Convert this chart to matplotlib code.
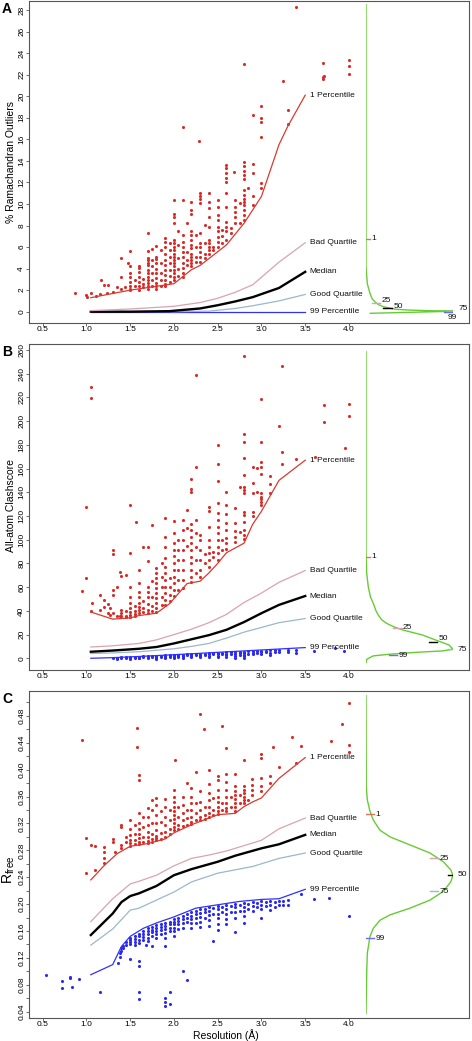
import numpy as np
import matplotlib
matplotlib.use('Agg')
import matplotlib.pyplot as plt
from matplotlib.ticker import MultipleLocator

plt.rcParams['font.family'] = ['Liberation Sans', 'DejaVu Sans']

# ============================ DATA ============================
pct_names = ['1 Percentile', 'Bad Quartile', 'Median', 'Good Quartile', '99 Percentile']
dens_labels = ['1', '25', '50', '75', '99']

# ---------- Panel A : % Ramachandran outliers ----------
A_p1_x = [1.05, 1.5, 2.0, 2.2, 2.3, 2.6, 2.8, 3.0, 3.2, 3.3, 3.5]
A_p1_y = [1.3, 2.0, 2.6, 3.9, 4.3, 6.2, 8.2, 10.7, 15.5, 17.2, 20.1]
A_bad_x = [1.05, 1.5, 2.0, 2.3, 2.5, 2.7, 2.9, 3.2, 3.5]
A_bad_y = [0.1, 0.25, 0.5, 0.85, 1.25, 1.8, 2.5, 4.6, 6.4]
A_med_x = [1.05, 1.5, 1.95, 2.3, 2.5, 2.7, 2.9, 3.2, 3.5]
A_med_y = [0.0, 0.0, 0.05, 0.3, 0.6, 0.95, 1.35, 2.2, 3.7]
A_good_x = [1.05, 2.0, 2.4, 2.7, 2.9, 3.2, 3.5]
A_good_y = [0.0, 0.0, 0.05, 0.3, 0.55, 1.0, 1.6]
A_p99_x = [1.05, 2.0, 3.0, 3.5]
A_p99_y = [0.0, 0.0, 0.0, 0.0]

A_red = [
    (0.87, [1.7]), (0.99, [1.55]), (1.01, [1.4]), (1.05, [1.7]), (1.11, [1.5]),
    (1.15, [1.6]), (1.17, [2.95]), (1.2, [2.45]), (1.23, [1.7]), (1.25, [2.45]),
    (1.3, [1.85]), (1.35, [2.3]), (1.39, [3.25]), (1.4, [2.1, 4.95]), (1.44, [2.3]),
    (1.48, [4.5]),
    (1.5, [5.65, 4.2, 3.55, 3.25, 2.8, 2.35, 2.15, 2.0]),
    (1.55, [2.4, 2.9]),
    (1.6, [4.25, 4.1, 3.7, 3.25, 2.8, 2.35, 2.05]),
    (1.65, [3.0, 2.3, 2.6]),
    (1.7, [7.3, 5.65, 4.95, 4.8, 4.55, 4.35, 3.85, 3.55, 3.25, 2.95, 2.65, 2.35, 2.1]),
    (1.75, [5.8, 4.8, 4.2, 3.55, 2.95, 2.35]),
    (1.8, [6.1, 5.1, 4.85, 4.5, 4.0, 3.55, 3.1, 2.65, 2.35, 2.15]),
    (1.85, [5.75, 4.5, 3.55, 2.95, 2.35]),
    (1.9, [6.8, 6.5, 6.05, 5.4, 4.8, 4.35, 3.85, 3.4, 2.95, 2.6, 2.4]),
    (1.95, [6.35, 5.7, 5.1, 4.5, 3.9, 3.3, 2.8]),
    (2.0, [10.4, 9.1, 8.8, 8.2, 6.65, 6.35, 6.05, 5.7, 5.4, 5.1, 4.8, 4.5, 4.2, 3.85, 3.55, 3.25, 2.95]),
    (2.05, [7.5, 6.2, 5.0, 4.0, 3.3]),
    (2.1, [17.15, 10.4, 7.1, 6.5, 6.05, 5.55, 5.1, 4.5, 4.05, 3.55, 3.25]),
    (2.15, [8.2, 5.55, 4.8, 4.35]),
    (2.2, [10.2, 9.45, 9.1, 7.45, 7.1, 6.65, 6.2, 5.9, 5.4, 5.1, 4.8, 4.5, 4.2]),
    (2.25, [7.1, 6.0, 5.1, 4.65]),
    (2.29, [15.8]),
    (2.3, [11.0, 10.75, 10.45, 10.05, 7.3, 6.4, 6.05, 5.55, 5.1, 4.65]),
    (2.35, [8.05, 6.35, 5.4, 4.95]),
    (2.4, [11.0, 10.2, 9.6, 8.8, 7.9, 6.65, 6.35, 6.05, 5.7, 5.4]),
    (2.45, [6.05, 5.7]),
    (2.5, [10.35, 9.75, 8.95, 8.5, 7.9, 7.45, 6.95, 6.5, 6.05]),
    (2.55, [7.6, 7.0, 6.35]),
    (2.6, [13.6, 13.3, 12.85, 12.4, 12.05, 11.0, 9.75, 8.35, 7.9, 7.45, 6.65]),
    (2.65, [7.75, 7.3]),
    (2.69, [13.0]),
    (2.7, [10.35, 9.75, 9.3, 8.8, 8.2]),
    (2.75, [10.1, 8.2]),
    (2.8, [23.0, 13.9, 13.5, 13.1, 12.7, 12.3, 11.3, 10.85, 10.5, 10.2, 9.9, 9.45, 9.0, 8.5]),
    (2.85, [11.45]),
    (2.9, [18.25, 13.7, 12.9, 10.7, 9.9]),
    (2.99, [19.05, 17.95, 17.6, 16.2, 11.9, 11.45]),
    (3.25, [21.4]),
    (3.3, [18.75, 17.45]),
    (3.4, [28.3]),
    (3.7, [21.8, 21.6, 23.1]),
    (3.72, [21.9]),
    (4.0, [23.4, 22.8, 22.1]),
]
A_blue = []

A_dens_y = [28.5, 4.2, 2.6, 1.7, 1.2, 0.93, 0.65, 0.46, 0.30, 0.22, 0.15, 0.10, 0.04, -0.05, -0.15]
A_dens_d = [0.0, 0.0, 0.015, 0.046, 0.07, 0.10, 0.145, 0.20, 0.29, 0.35, 0.50, 0.70, 1.0, 0.55, 0.05]
A_pct_y = [6.75, 0.78, 0.31, 0.10, 0.0]
A_pct_d = [0.0, 0.115, 0.25, 0.98, 0.95]

# ---------- Panel B : all-atom clashscore ----------
B_p1_x = [1.05, 1.3, 1.5, 1.6, 1.8, 1.95, 2.15, 2.3, 2.4, 2.5, 2.6, 2.8, 2.9, 3.0, 3.2, 3.5]
B_p1_y = [39, 33, 34, 36, 38, 46, 63, 65, 72, 80, 89, 97, 113, 124, 150, 167]
B_bad_x = [1.05, 1.3, 1.6, 1.8, 2.0, 2.2, 2.4, 2.6, 2.8, 3.0, 3.2, 3.5]
B_bad_y = [9.5, 10.5, 12.5, 15.5, 20, 24.5, 30, 37, 47, 55, 64, 74]
B_med_x = [1.05, 1.3, 1.6, 1.8, 2.0, 2.2, 2.4, 2.6, 2.8, 3.0, 3.2, 3.5]
B_med_y = [5.5, 6.5, 8, 9.5, 12.5, 16, 19.5, 24, 30.5, 38, 45, 52.5]
B_good_x = [1.05, 1.3, 1.6, 2.0, 2.2, 2.4, 2.6, 2.8, 3.0, 3.2, 3.5]
B_good_y = [4, 4.5, 5.5, 8, 10, 12.5, 17, 22, 26, 30, 33.5]
B_p99_x = [1.05, 1.3, 1.6, 2.0, 2.5, 3.0, 3.5]
B_p99_y = [0, 0.5, 1.5, 3, 5, 7, 9]

B_red = [
    (0.945, [57.0]), (1.0, [127.9, 67.5]), (1.05, [228.5, 219.2, 39.5]), (1.06, [46.4]),
    (1.15, [53.4, 40.5]), (1.2, [49.0, 43.0]), (1.25, [45.5, 38.0]), (1.27, [42.2, 36.5]),
    (1.3, [91.3, 87.5, 57.6, 53.0, 38.5]), (1.35, [60.4, 35.5]), (1.38, [73.0, 36.0]),
    (1.4, [69.0, 41.0, 38.5, 35.5]), (1.45, [70.5, 40.0, 36.0, 34.5]),
    (1.5, [129.3, 89.1, 60.4, 52.0, 47.0, 42.0, 39.0, 36.5, 35.0]),
    (1.55, [44.0, 40.0, 37.0, 35.5]), (1.57, [115.2]),
    (1.6, [74.5, 63.8, 56.0, 52.0, 46.5, 43.5, 40.5, 38.0]),
    (1.65, [93.6, 48.0, 42.0, 39.0]),
    (1.7, [93.6, 82.3, 60.0, 56.0, 52.0, 46.0, 40.8, 38.5]),
    (1.75, [112.4, 65.0, 52.0, 44.0, 40.0]),
    (1.8, [75.9, 71.7, 67.5, 63.2, 59.0, 54.8, 50.6, 46.4, 42.2, 39.4]),
    (1.86, [80.0, 68.9, 60.4, 52.0, 45.0]),
    (1.9, [118.0, 102.0, 94.2, 84.3, 77.3, 71.7, 66.1, 60.4, 54.8, 49.2, 45.0]),
    (1.96, [68.0, 60.4, 53.0, 48.0]),
    (2.0, [116.0, 106.0, 97.0, 91.5, 86.0, 80.0, 74.5, 68.9, 63.2, 57.6, 52.5]),
    (2.05, [99.8, 91.3, 82.9, 74.5, 66.1, 57.6]),
    (2.1, [116.6, 108.2, 99.8, 91.3, 82.9, 74.5, 66.1, 59.5]),
    (2.15, [125.1, 110.0, 95.0]),
    (2.2, [150.9, 142.5, 140.2, 113.0, 108.2, 102.6, 97.0, 91.3, 85.7, 80.1, 74.5, 68.9, 64.5]),
    (2.25, [238.9, 161.6, 116.6, 105.4, 94.2, 82.9, 71.7]),
    (2.3, [104.0, 99.8, 91.3, 82.9, 74.5, 68.9]),
    (2.35, [88.0, 80.0]),
    (2.4, [127.9, 124.5, 111.0, 99.8, 94.2, 88.5, 82.9, 77.3]),
    (2.45, [90.0, 85.0]),
    (2.5, [179.9, 163.8, 149.8, 131.2, 122.3, 116.6, 111.0, 105.4, 99.8, 94.2, 88.5, 82.9]),
    (2.55, [99.8, 91.3]),
    (2.6, [140.5, 129.3, 122.0, 114.0, 108.2, 101.0, 97.0, 92.5]),
    (2.7, [126.5, 114.4, 107.5, 102.6, 98.4]),
    (2.75, [144.7, 106.8]),
    (2.8, [254.9, 189.1, 182.7, 168.6, 154.6, 144.7, 142.0, 139.7, 123.6, 120.8, 115.2, 108.0, 104.0, 100.5]),
    (2.9, [161.0, 147.5, 139.7, 123.6, 120.0]),
    (2.95, [160.5, 140.5]),
    (3.0, [218.4, 182.7, 165.8, 161.6, 155.4, 139.7, 136.3, 134.0, 131.8, 129.3]),
    (3.1, [153.7, 147.0, 139.7]),
    (3.2, [195.9]),
    (3.24, [246.5, 174.2, 163.8]),
    (3.4, [168.1]),
    (3.61, [169.5]),
    (3.71, [213.3, 199.5]),
    (3.96, [177.1]),
    (4.0, [214.4, 204.3]),
]
B_blue = [
    (1.3, [0.3]), (1.35, [0.5, -0.3]), (1.4, [0.8, 0.0]), (1.45, [0.9, 0.2]),
    (1.5, [1.0, 0.3, -0.4]), (1.55, [1.2, 0.5]), (1.6, [1.3, 0.6, -0.2]),
    (1.65, [1.5, 0.8]), (1.7, [1.7, 1.0, 0.2]), (1.75, [1.8, 1.1]),
    (1.8, [2.0, 1.3, 0.5, -0.3]), (1.85, [2.2, 1.5, 0.7]), (1.9, [2.4, 1.7, 0.9, 0.1]),
    (1.95, [2.6, 1.8, 1.0]), (2.0, [2.8, 2.0, 1.2, 0.3]), (2.05, [3.0, 2.2, 1.3]),
    (2.1, [3.1, 2.3, 1.5, 0.6]), (2.15, [3.3, 2.4]), (2.2, [3.5, 2.6, 1.7, 0.8]),
    (2.25, [3.6, 2.7]), (2.3, [3.8, 2.9, 2.0, 0.9]), (2.35, [4.0, 3.0]),
    (2.4, [4.2, 3.2, 2.1, 1.0]), (2.45, [4.4, 3.3]), (2.5, [4.6, 3.5, 2.3, 1.0]),
    (2.55, [4.8, 3.2]), (2.6, [5.0, 3.8, 2.5, 0.8]), (2.65, [5.1, 3.5]),
    (2.7, [5.3, 4.0, 2.2, 0.5]), (2.75, [5.5, 4.2, 2.8]), (2.8, [5.7, 4.5, 3.0, 1.5, -0.2]),
    (2.85, [5.8, 4.0]), (2.9, [6.0, 4.8, 3.2]), (2.95, [6.2, 4.5]),
    (3.0, [6.4, 5.2, 3.5]), (3.05, [6.5, 5.0]), (3.1, [6.6, 4.8, 3.0]),
    (3.15, [6.7, 5.5]), (3.2, [6.9, 5.0]), (3.3, [7.0, 5.5]), (3.4, [7.3, 4.2]),
    (3.6, [6.4]), (3.84, [8.4]), (3.94, [6.4]),
]

B_dens_y = [258.6, 88.5, 71.7, 60.4, 52.0, 46.4, 40.0, 36.5, 32.5, 29.5, 26.5, 23.9, 19.6,
            15.4, 11.2, 7.6, 6.2, 5.0, 3.4, 2.0, -0.9, -3.7]
B_dens_d = [0.0, 0.0, 0.008, 0.026, 0.05, 0.083, 0.115, 0.14, 0.18, 0.235, 0.32, 0.42, 0.65,
            0.80, 0.955, 1.0, 0.88, 0.58, 0.27, 0.083, 0.008, 0.0]
B_pct_y = [85.7, 25.3, 14.0, 7.6, 2.8]
B_pct_d = [0.0, 0.36, 0.77, 0.99, 0.31]

# ---------- Panel C : R free ----------
C_p1_x = [1.05, 1.2, 1.35, 1.5, 1.7, 1.9, 2.0, 2.2, 2.5, 2.7, 2.8, 2.9, 3.0, 3.2, 3.5]
C_p1_y = [0.236, 0.257, 0.275, 0.286, 0.290, 0.297, 0.306, 0.318, 0.333, 0.335, 0.345,
          0.352, 0.358, 0.387, 0.418]
C_bad_x = [1.05, 1.3, 1.5, 1.6, 1.8, 2.0, 2.2, 2.4, 2.6, 2.8, 3.0, 3.2, 3.5]
C_bad_y = [0.174, 0.208, 0.230, 0.234, 0.243, 0.257, 0.268, 0.273, 0.279, 0.287, 0.295,
           0.312, 0.328]
C_med_x = [1.05, 1.3, 1.4, 1.5, 1.6, 1.8, 2.0, 2.2, 2.5, 2.7, 3.0, 3.2, 3.5]
C_med_y = [0.154, 0.186, 0.203, 0.212, 0.216, 0.227, 0.243, 0.252, 0.263, 0.272, 0.283,
           0.289, 0.303]
C_good_x = [1.05, 1.3, 1.5, 1.6, 1.8, 2.0, 2.2, 2.5, 2.9, 3.2, 3.5]
C_good_y = [0.139, 0.163, 0.191, 0.194, 0.206, 0.218, 0.233, 0.246, 0.256, 0.268, 0.276]
C_p99_x = [1.05, 1.3, 1.4, 1.5, 1.65, 1.8, 2.0, 2.25, 2.5, 2.75, 3.0, 3.2, 3.5]
C_p99_y = [0.095, 0.110, 0.137, 0.152, 0.164, 0.172, 0.181, 0.194, 0.199, 0.204, 0.207,
           0.208, 0.222]

C_red = [
    (0.945, [0.444]), (0.995, [0.298]), (1.0, [0.247]), (1.05, [0.288]),
    (1.1, [0.287, 0.251]), (1.2, [0.285, 0.278, 0.268, 0.261]), (1.3, [0.297, 0.293]),
    (1.33, [0.277]), (1.39, [0.318, 0.315, 0.288, 0.284]), (1.45, [0.300, 0.292]),
    (1.5, [0.325, 0.311, 0.303, 0.296, 0.291, 0.287]),
    (1.55, [0.318, 0.305, 0.296, 0.290]), (1.58, [0.462, 0.433]),
    (1.6, [0.392, 0.385, 0.335, 0.320, 0.312, 0.305, 0.299, 0.293, 0.289]),
    (1.65, [0.330, 0.315, 0.300, 0.292]),
    (1.7, [0.343, 0.330, 0.318, 0.308, 0.300, 0.294, 0.291]),
    (1.75, [0.355, 0.340, 0.320, 0.305, 0.297, 0.293]),
    (1.8, [0.358, 0.348, 0.332, 0.320, 0.310, 0.302, 0.298, 0.295]),
    (1.85, [0.338, 0.322, 0.306, 0.297]),
    (1.9, [0.356, 0.345, 0.330, 0.318, 0.308, 0.300]),
    (1.95, [0.340, 0.325, 0.312, 0.304]),
    (2.0, [0.370, 0.360, 0.352, 0.345, 0.338, 0.332, 0.326, 0.320, 0.315, 0.310]),
    (2.01, [0.414]),
    (2.05, [0.345, 0.330, 0.318, 0.311]),
    (2.1, [0.360, 0.348, 0.336, 0.325, 0.316]),
    (2.15, [0.380, 0.340, 0.328, 0.318]),
    (2.2, [0.372, 0.360, 0.350, 0.340, 0.330, 0.322, 0.319]),
    (2.25, [0.397, 0.350, 0.335, 0.325]),
    (2.3, [0.483, 0.368, 0.352, 0.340, 0.330, 0.325]),
    (2.34, [0.460]),
    (2.35, [0.345, 0.332, 0.327]),
    (2.4, [0.400, 0.378, 0.365, 0.355, 0.345, 0.335, 0.330]),
    (2.45, [0.358, 0.340, 0.332]),
    (2.5, [0.391, 0.384, 0.370, 0.360, 0.352, 0.345, 0.338, 0.334]),
    (2.55, [0.465, 0.350, 0.340]),
    (2.6, [0.432, 0.394, 0.382, 0.370, 0.360, 0.350, 0.343, 0.338]),
    (2.65, [0.360, 0.345]),
    (2.7, [0.393, 0.375, 0.368, 0.362, 0.356, 0.350, 0.344, 0.339]),
    (2.75, [0.362, 0.350]),
    (2.8, [0.415, 0.375, 0.370, 0.365, 0.360, 0.355, 0.350]),
    (2.85, [0.355]),
    (2.89, [0.386, 0.377, 0.370, 0.362]),
    (3.0, [0.423, 0.417, 0.388, 0.375, 0.368]),
    (3.1, [0.391, 0.380]), (3.13, [0.433]), (3.2, [0.404]), (3.35, [0.448]),
    (3.4, [0.410]), (3.45, [0.435]), (3.8, [0.443]), (3.92, [0.468]),
    (4.0, [0.499, 0.436, 0.427]),
]
C_blue = [
    (0.54, [0.094]), (0.72, [0.086, 0.075]), (0.81, [0.091, 0.090]), (0.84, [0.077]),
    (0.91, [0.089]), (1.15, [0.070]), (1.36, [0.112]), (1.38, [0.127, 0.122]),
    (1.4, [0.134, 0.130]), (1.42, [0.138, 0.134]), (1.45, [0.143, 0.139]),
    (1.5, [0.150, 0.147, 0.143, 0.140, 0.119]),
    (1.55, [0.153, 0.148, 0.144, 0.139]),
    (1.6, [0.156, 0.152, 0.147, 0.142, 0.116, 0.108, 0.069, 0.059]),
    (1.65, [0.160, 0.156, 0.151, 0.146]), (1.68, [0.139]),
    (1.7, [0.164, 0.160, 0.156, 0.150, 0.145]),
    (1.75, [0.166, 0.162, 0.158, 0.153, 0.138]),
    (1.8, [0.169, 0.165, 0.160, 0.155, 0.149]),
    (1.85, [0.170, 0.166, 0.161, 0.155]),
    (1.9, [0.172, 0.168, 0.163, 0.157, 0.150, 0.138, 0.061, 0.055, 0.048]),
    (1.95, [0.174, 0.170, 0.165, 0.160, 0.069, 0.052]),
    (2.0, [0.178, 0.174, 0.170, 0.165, 0.160, 0.153]),
    (2.05, [0.180, 0.175, 0.170, 0.163]),
    (2.1, [0.183, 0.178, 0.172, 0.165, 0.100]),
    (2.15, [0.185, 0.180, 0.174, 0.087]),
    (2.2, [0.188, 0.183, 0.178, 0.172, 0.165]),
    (2.25, [0.190, 0.185, 0.179, 0.172]),
    (2.3, [0.192, 0.187, 0.181, 0.174, 0.166]),
    (2.35, [0.193, 0.188, 0.180]),
    (2.4, [0.195, 0.190, 0.184, 0.176, 0.168]),
    (2.45, [0.194, 0.186, 0.145]),
    (2.5, [0.197, 0.192, 0.186, 0.179, 0.170, 0.162]),
    (2.55, [0.196, 0.188]),
    (2.6, [0.198, 0.193, 0.186, 0.178, 0.170]),
    (2.65, [0.197, 0.189]),
    (2.7, [0.200, 0.195, 0.188, 0.180, 0.158]),
    (2.75, [0.199, 0.190]),
    (2.8, [0.202, 0.196, 0.190, 0.182, 0.172]),
    (2.85, [0.200, 0.193]),
    (2.9, [0.203, 0.197, 0.190]),
    (2.95, [0.202, 0.195]),
    (3.0, [0.205, 0.199, 0.192, 0.180]),
    (3.05, [0.203, 0.197]),
    (3.1, [0.204, 0.198, 0.191]),
    (3.15, [0.203, 0.196]),
    (3.2, [0.205, 0.199]),
    (3.25, [0.204, 0.198]),
    (3.3, [0.206, 0.199]),
    (3.45, [0.215]), (3.6, [0.207]), (3.77, [0.209]), (4.0, [0.183]),
]

C_dens_y = [0.51, 0.375, 0.355, 0.338, 0.325, 0.310, 0.300, 0.288, 0.276, 0.263, 0.251,
            0.243, 0.233, 0.219, 0.206, 0.194, 0.184, 0.176, 0.164, 0.152, 0.127, 0.097, 0.037]
C_dens_d = [0.0, 0.003, 0.015, 0.046, 0.084, 0.16, 0.276, 0.506, 0.736, 0.889, 0.974,
            1.0, 0.974, 0.889, 0.736, 0.506, 0.276, 0.16, 0.084, 0.046, 0.015, 0.008, 0.0]
C_pct_y = [0.334, 0.268, 0.244, 0.219, 0.149]
C_pct_d = [0.046, 0.78, 0.99, 0.78, 0.046]

# ============================ STYLE ============================
W, H = 472, 1041
RED_PT = '#d92b27'
BLUE_PT = '#2a2af0'
line_colors = ['#d83a30', '#dba3ae', '#000000', '#9bb8cb', '#3030ff']
line_widths = [0.9, 0.9, 1.7, 0.9, 0.9]
mark_colors = ['#e0705f', '#dba3ae', '#000000', '#9bb8cb', '#6a6aff']
GREEN = '#66cc33'
FRAME = '#555555'

XLIM = (0.347, 5.375)
left_px, right_px = 29.3, 469.3


def fig_rect(top_px, bot_px):
    return [left_px / W, 1 - bot_px / H, (right_px - left_px) / W, (bot_px - top_px) / H]


def flatten(cols):
    xs, ys = [], []
    for x, yl in cols:
        for y in yl:
            xs.append(x)
            ys.append(y)
    return xs, ys


fig = plt.figure(figsize=(W / 100, H / 100), dpi=100)

panels = [
    dict(letter='A', rect=fig_rect(1, 323), ylim=(-1.05, 28.84),
         lines=[(A_p1_x, A_p1_y), (A_bad_x, A_bad_y), (A_med_x, A_med_y),
                (A_good_x, A_good_y), (A_p99_x, A_p99_y)],
         red=A_red, blue=A_blue, dy=A_dens_y, dd=A_dens_d, py=A_pct_y, pd=A_pct_d,
         lab_off=[(1, 0), (1, 2), (1, 1.5), (2, 1.5), (-4, -4.5)],
         yticks=np.arange(0, 29, 2), minor=False, fmt='%d',
         ylabel='% Ramachandran Outliers', ylab_y=162),
    dict(letter='B', rect=fig_rect(344, 670), ylim=(-9.9, 265),
         lines=[(B_p1_x, B_p1_y), (B_bad_x, B_bad_y), (B_med_x, B_med_y),
                (B_good_x, B_good_y), (B_p99_x, B_p99_y)],
         red=B_red, blue=B_blue, dy=B_dens_y, dd=B_dens_d, py=B_pct_y, pd=B_pct_d,
         lab_off=[(1, 0), (1, 0.5), (1, 2), (1, 0), (1, -0.5)],
         yticks=np.arange(0, 261, 20), minor=False, fmt='%d',
         ylabel='All-atom Clashscore', ylab_y=505),
    dict(letter='C', rect=fig_rect(691, 1018), ylim=(0.0306, 0.517),
         lines=[(C_p1_x, C_p1_y), (C_bad_x, C_bad_y), (C_med_x, C_med_y),
                (C_good_x, C_good_y), (C_p99_x, C_p99_y)],
         red=C_red, blue=C_blue, dy=C_dens_y, dd=C_dens_d, py=C_pct_y, pd=C_pct_d,
         lab_off=[(1, 0), (1, 0), (1, 0), (1, 0), (1, 0)],
         yticks=np.arange(0.04, 0.49, 0.04), minor=True, fmt='%.2f',
         ylabel=r'$\mathregular{R_{free}}$', ylab_y=870),
]

for p in panels:
    ax = fig.add_axes(p['rect'])
    ax.set_xlim(*XLIM)
    ax.set_ylim(*p['ylim'])
    for s in ax.spines.values():
        s.set_color(FRAME)
        s.set_linewidth(0.8)

    rx, ry = flatten(p['red'])
    ax.scatter(rx, ry, s=5, color=RED_PT, linewidths=0, zorder=3)
    if p['blue']:
        bx, by = flatten(p['blue'])
        ax.scatter(bx, by, s=5, color=BLUE_PT, linewidths=0, zorder=3)

    for i in [4, 3, 2, 1, 0]:
        lx, ly = p['lines'][i]
        ax.plot(lx, ly, color=line_colors[i], lw=line_widths[i], zorder=4,
                solid_joinstyle='round')
    for i in range(5):
        lx, ly = p['lines'][i]
        ax.text(lx[-1] + 0.05, ly[-1], pct_names[i], fontsize=6, va='center',
                ha='left', color='#111111', zorder=5)

    xt = np.arange(0.5, 4.01, 0.5)
    ax.set_xticks(xt)
    ax.set_xticklabels(['%.1f' % v for v in xt])
    ax.set_yticks(p['yticks'])
    ax.set_yticklabels([p['fmt'] % v for v in p['yticks']])
    if p['minor']:
        ax.yaxis.set_minor_locator(MultipleLocator(0.02))
        ax.tick_params(axis='y', which='minor', length=2, width=0.6, color=FRAME)
    ax.tick_params(axis='both', which='major', length=2, width=0.6, labelsize=6,
                   pad=1, color=FRAME)
    ax.tick_params(axis='x', pad=0.5)
    for lab in ax.get_yticklabels():
        lab.set_rotation(90)
        lab.set_va('center')
        lab.set_ha('right')

    # density side plot
    dax = ax.inset_axes([(366 - left_px) / (right_px - left_px), 0,
                         (453 - 366) / (right_px - left_px), 1])
    dax.set_xlim(0, 1)
    dax.set_ylim(*p['ylim'])
    dax.axis('off')
    dax.plot(p['dd'], p['dy'], color=GREEN, lw=1.0, zorder=2)
    hw = 0.05
    for i in range(5):
        d0, y0 = p['pd'][i], p['py'][i]
        dax.plot([d0 - hw, d0 + hw], [y0, y0], color=mark_colors[i], lw=1.0, zorder=3)
        ox, oy = p['lab_off'][i]
        dax.annotate(dens_labels[i], (d0 + hw, y0), xytext=(ox, oy),
                     textcoords='offset points', fontsize=6, va='center', ha='left',
                     color='#111111', annotation_clip=False)

    fig.text(2 / W, p['rect'][1] + p['rect'][3] - 8 / H, p['letter'], fontsize=10,
             fontweight='bold', va='center', ha='left')
    if p['letter'] == 'C':
        fig.text(9 / W, 1 - p['ylab_y'] / H, p['ylabel'], fontsize=10, rotation=90,
                 va='center', ha='center')
    else:
        fig.text(11 / W, 1 - p['ylab_y'] / H, p['ylabel'], fontsize=7.5, rotation=90,
                 va='center', ha='center')

fig.text(226 / W, 1 - 1035 / H, 'Resolution (\u00c5)', fontsize=7.5, va='center', ha='center')

fig.savefig('out.png', dpi=100)
